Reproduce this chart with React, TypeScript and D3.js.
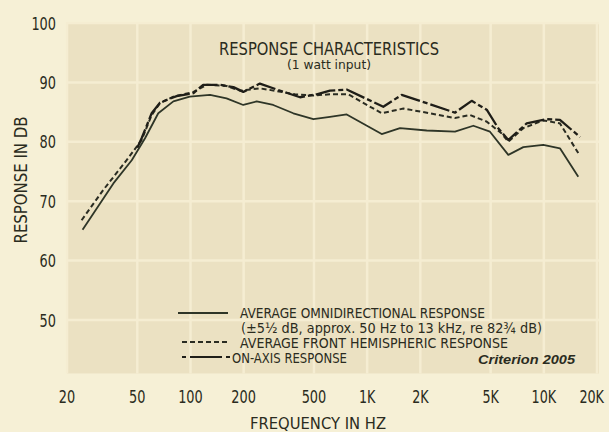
import React from "react";
import * as d3 from "d3";

const W = 609;
const H = 432;

const xTicks = [20, 50, 100, 200, 500, 1000, 2000, 5000, 10000, 20000];
const xTickLabels = ["20", "50", "100", "200", "500", "1K", "2K", "5K", "10K", "20K"];
const yTicks = [100, 90, 80, 70, 60, 50];

const omniFreq = [24.5, 36.6, 46.5, 55.3, 65.7, 80, 99, 129, 160, 199, 237, 294, 382, 496, 616, 766, 1209, 1535, 2174, 3141, 3990, 4957, 6295, 7655, 9930, 12340, 15670];
const omniDb = [65.2, 73.0, 76.9, 80.6, 84.8, 86.8, 87.6, 87.9, 87.3, 86.2, 86.8, 86.2, 84.8, 83.8, 84.2, 84.6, 81.3, 82.3, 81.9, 81.7, 82.7, 81.7, 77.8, 79.1, 79.5, 78.9, 74.1];

const frontFreq = [24.2, 32.1, 43.5, 52.9, 60.3, 67.2, 80, 104, 124, 160, 191, 247, 300, 390, 500, 616, 782, 1209, 1603, 2270, 3141, 3820, 4750, 5775, 6295, 7655, 9930, 12340, 15670];
const frontDb = [66.8, 71.9, 76.9, 80.3, 84.5, 86.5, 87.6, 88.4, 89.6, 89.4, 88.6, 89.0, 88.6, 88.0, 87.8, 88.0, 88.0, 84.8, 85.6, 84.8, 84.0, 84.5, 83.4, 81.4, 80.0, 82.3, 83.6, 83.1, 78.1];

const axisFreq = [50, 52.9, 60.3, 67.2, 83.5, 104, 118, 147, 175, 199, 247, 308, 417, 518, 616, 766, 1234, 1568, 2174, 3141, 3905, 4750, 5520, 6295, 8000, 10380, 12340, 16030];
const axisDb = [79.0, 80.6, 84.8, 86.6, 87.7, 88.2, 89.6, 89.6, 89.2, 88.4, 89.8, 88.8, 87.5, 88.0, 88.6, 88.8, 85.9, 87.9, 86.5, 84.9, 86.9, 85.4, 82.3, 80.3, 83.1, 83.8, 83.7, 80.8];

const legendLabels = [
  "AVERAGE OMNIDIRECTIONAL RESPONSE",
  "(\u00b15\u00bd dB, approx. 50 Hz to 13 kHz, re 82\u00be dB)",
  "AVERAGE FRONT HEMISPHERIC RESPONSE",
  "ON-AXIS RESPONSE",
];

const FONT = "'DejaVu Sans', 'Liberation Sans', sans-serif";
const INK = "#2a2b20";

export default function App() {
  const x = d3.scaleLog().domain([20, 20000]).range([67, 597]);
  const y = d3.scaleLinear().domain([50, 100]).range([320, 23]);

  const mk = (fs: number[], vs: number[]) =>
    d3
      .line<number>()
      .x((_, i) => x(fs[i]))
      .y((v) => y(v))
      .curve(d3.curveLinear)(vs) as string;

  const plotTop = y(100) - 1;
  const plotBottom = y(41);
  const plotLeft = x(20);
  const plotRight = x(20000) + 2;
  const charW = 8.2;

  return (
    <svg
      width={W}
      height={H}
      style={{ position: "absolute", left: 0, top: 0 }}
      xmlns="http://www.w3.org/2000/svg"
    >
      <rect x={0} y={0} width={W} height={H} fill="#f6f0d6" />
      <rect
        x={plotLeft}
        y={plotTop}
        width={plotRight - plotLeft}
        height={plotBottom - plotTop}
        fill="#ebe1c2"
      />
      {xTicks.map((t) => (
        <line key={"gx" + t} x1={x(t)} x2={x(t)} y1={plotTop} y2={plotBottom} stroke="#f5edd2" strokeWidth={2.5} />
      ))}
      {yTicks.map((t) => (
        <line key={"gy" + t} x1={plotLeft} x2={plotRight} y1={y(t)} y2={y(t)} stroke="#f5edd2" strokeWidth={2.5} />
      ))}

      {yTicks.map((t) => {
        const s = String(t);
        return (
          <text
            key={"yl" + t}
            x={56}
            y={y(t) + 6.5}
            textAnchor="end"
            fontFamily={FONT}
            fontSize={18}
            fill={INK}
            textLength={s.length * charW}
            lengthAdjust="spacingAndGlyphs"
          >
            {s}
          </text>
        );
      })}
      {xTicks.map((t, i) => {
        const s = xTickLabels[i];
        const anchorEnd = i === xTicks.length - 1;
        return (
          <text
            key={"xl" + t}
            x={anchorEnd ? x(t) + 7 : x(t)}
            y={402.5}
            textAnchor={anchorEnd ? "end" : "middle"}
            fontFamily={FONT}
            fontSize={18}
            fill={INK}
            textLength={s.length * charW}
            lengthAdjust="spacingAndGlyphs"
          >
            {s}
          </text>
        );
      })}

      <text
        x={318}
        y={429}
        textAnchor="middle"
        fontFamily={FONT}
        fontSize={16}
        fill={INK}
        textLength={136}
        lengthAdjust="spacingAndGlyphs"
      >
        FREQUENCY IN HZ
      </text>
      <text
        transform={`translate(27,180) rotate(-90)`}
        textAnchor="middle"
        fontFamily={FONT}
        fontSize={17}
        fill={INK}
        textLength={127}
        lengthAdjust="spacingAndGlyphs"
      >
        RESPONSE IN DB
      </text>

      <text
        x={329}
        y={54.5}
        textAnchor="middle"
        fontFamily={FONT}
        fontSize={18}
        fill={INK}
        textLength={220}
        lengthAdjust="spacingAndGlyphs"
      >
        RESPONSE CHARACTERISTICS
      </text>
      <text
        x={329}
        y={69}
        textAnchor="middle"
        fontFamily={FONT}
        fontSize={12}
        fill={INK}
        textLength={84}
        lengthAdjust="spacingAndGlyphs"
      >
        (1 watt input)
      </text>

      <path d={mk(omniFreq, omniDb)} fill="none" stroke="#2e3527" strokeWidth={1.8} strokeLinejoin="round" />
      <path d={mk(frontFreq, frontDb)} fill="none" stroke="#2a2c22" strokeWidth={2} strokeDasharray="5,3" />
      <path
        d={mk(axisFreq, axisDb)}
        fill="none"
        stroke="#1f1e18"
        strokeWidth={2.3}
        strokeDasharray="20,3,5,3"
        strokeLinejoin="round"
      />

      <line x1={178} x2={228} y1={313} y2={313} stroke="#2e3527" strokeWidth={1.8} />
      <line x1={182} x2={229} y1={342} y2={342} stroke="#2a2c22" strokeWidth={2} strokeDasharray="5,3" />
      <line x1={182} x2={230} y1={357} y2={357} stroke="#1f1e18" strokeWidth={2} strokeDasharray="4,4,32,4,4" />
      {[
        { t: legendLabels[0], x: 240, y: 318, w: 245 },
        { t: legendLabels[1], x: 241, y: 333, w: 301 },
        { t: legendLabels[2], x: 240, y: 347.5, w: 268 },
        { t: legendLabels[3], x: 232, y: 362.5, w: 115 },
      ].map((d, i) => (
        <text
          key={"lg" + i}
          x={d.x}
          y={d.y}
          fontFamily={FONT}
          fontSize={14.5}
          fill={INK}
          textLength={d.w}
          lengthAdjust="spacingAndGlyphs"
        >
          {d.t}
        </text>
      ))}
      <text
        x={478}
        y={364}
        fontFamily="'Liberation Sans', Arial, sans-serif"
        fontSize={13}
        fontWeight="bold"
        fontStyle="italic"
        fill={INK}
        textLength={97}
        lengthAdjust="spacingAndGlyphs"
      >
        Criterion 2005
      </text>
    </svg>
  );
}
